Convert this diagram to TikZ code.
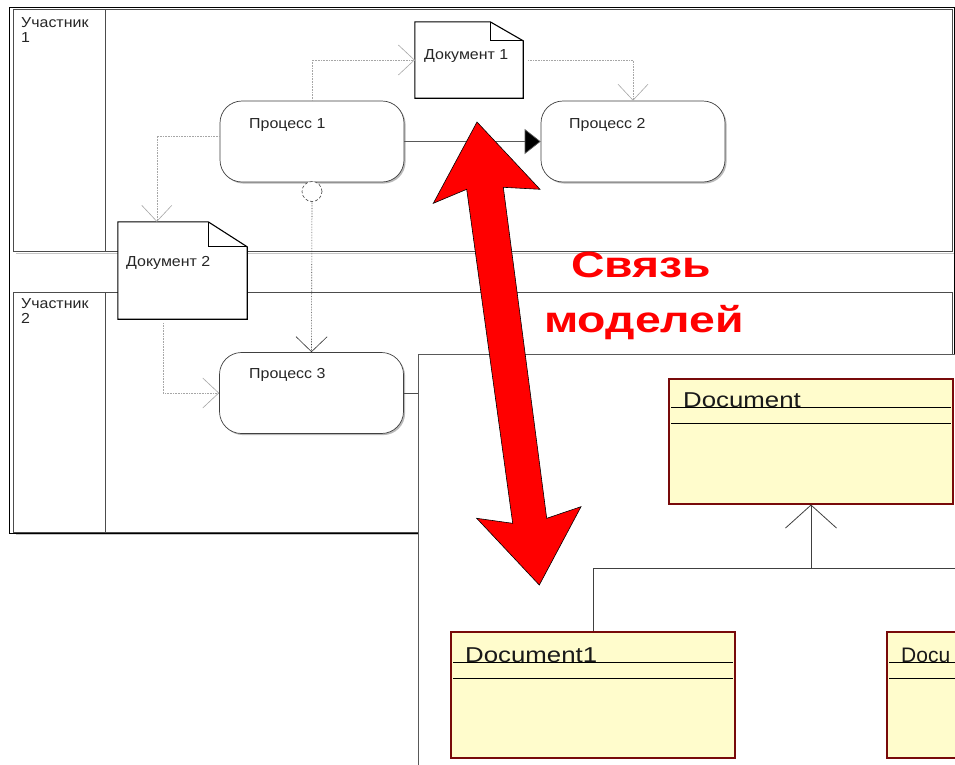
\documentclass[tikz,border=0pt]{standalone}
\usepackage{fontspec}
\setmainfont{Liberation Sans}
\newfontfamily\bpmnfont[FakeStretch=1.1]{Liberation Sans}
\newfontfamily\umlfont[FakeStretch=1.2]{Liberation Sans}
\newfontfamily\umlcutfont{Liberation Sans}
\newfontfamily\redfont[FakeStretch=1.27]{Liberation Sans}
\usetikzlibrary{arrows.meta,shadows,calc}
\definecolor{umlyellow}{RGB}{255,252,204}
\definecolor{umlborder}{RGB}{120,10,10}
\definecolor{bigred}{RGB}{255,0,0}
\tikzset{
  lanebox/.style={draw=black!70, line width=0.8pt},
  laneshadow/.style={draw=gray!45, line width=1.6pt},
  poolbox/.style={draw=black, line width=0.8pt},
  proc/.style={draw=black!75, line width=0.7pt, rounded corners=22pt, fill=white,
    minimum width=184pt, minimum height=81pt, inner sep=0pt,
    drop shadow={shadow xshift=1.6pt, shadow yshift=-1.6pt, fill=gray!55, opacity=1}},
  lbl/.style={font=\bpmnfont\fontsize{14.5}{16}\selectfont, inner sep=0pt, anchor=base west, text=black!85},
  docline/.style={draw=black, line width=1.1pt, fill=white},
  flow/.style={draw=gray!70, line width=0.6pt, densely dotted,
    -{Straight Barb[length=16pt, width=30pt, line width=0.6pt]}},
  msg/.style={draw=black!80, line width=0.6pt, densely dotted,
    -{Straight Barb[length=15pt, width=31pt, line width=0.6pt]}},
  seqflow/.style={draw=black!65, line width=0.7pt, -{Triangle[length=16pt, width=25pt, fill=black]}},
  umlclass/.style={draw=umlborder, line width=2pt, fill=umlyellow, inner sep=0pt},
  umlline/.style={draw=black, line width=0.7pt},
  umltxt/.style={font=\umlfont\fontsize{21.5}{24}\selectfont, inner sep=0pt, anchor=base west, text=black!90},
  gen/.style={draw=black!75, line width=0.8pt},
  redtxt/.style={font=\redfont\bfseries\fontsize{36.5}{40}\selectfont, text=bigred, inner sep=0pt, anchor=base west}
}
\begin{document}
\begin{tikzpicture}[x=1pt,y=-1pt]
\useasboundingbox (0,0) rectangle (955,764);
\clip (0,0) rectangle (955,764);
\fill[white] (0,0) rectangle (955,764);

% pool and lanes
\draw[laneshadow] (955,12) -- (955,253.5) -- (16,253.5);
\draw[laneshadow] (955,295) -- (955,534.5) -- (16,534.5);
\draw[poolbox] (9,7) rectangle (954,533);
\draw[lanebox] (13,9) rectangle (952,251);
\draw[lanebox] (13,292) rectangle (952,532);
\draw[lanebox] (105.5,9) -- (105.5,251);
\draw[lanebox] (105.5,292) -- (105.5,532);
\node[lbl] (l1a) at (21,27) {Участник};
\node[lbl] (l1b) at (21,42.5) {1};
\node[lbl] (l2a) at (21,308) {Участник};
\node[lbl] (l2b) at (21,323.5) {2};

% processes
\node[proc] (p1) at (312,141.5) {};
\node[proc] (p2) at (633,141.5) {};
\node[proc] (p3) at (311.5,393) {};
\node[lbl] (p1t) at (249,128) {Процесс 1};
\node[lbl] (p2t) at (569,128) {Процесс 2};
\node[lbl] (p3t) at (249,378.5) {Процесс 3};

% documents
\node[minimum width=108pt, minimum height=76pt, inner sep=0pt] (d1) at (469,60) {};
\draw[docline] (d1.south west) -- (d1.north west) -- ($(d1.north east)+(-33,0)$) -- ($(d1.north east)+(0,19)$) -- (d1.south east) -- cycle;
\draw[docline, fill=none] ($(d1.north east)+(-33,0)$) -- ($(d1.north east)+(-33,19)$) -- ($(d1.north east)+(0,19)$);
\node[lbl] (d1t) at (424,59) {Документ 1};

\node[minimum width=129pt, minimum height=97pt, inner sep=0pt] (d2) at (182.5,270.5) {};
\draw[docline] (d2.south west) -- (d2.north west) -- ($(d2.north east)+(-39,0)$) -- ($(d2.north east)+(0,25)$) -- (d2.south east) -- cycle;
\draw[docline, fill=none] ($(d2.north east)+(-39,0)$) -- ($(d2.north east)+(-39,25)$) -- ($(d2.north east)+(0,25)$);
\node[lbl] (d2t) at (126,266) {Документ 2};

% connectors
\draw[flow] (p1.north) |- (d1.west);
\draw[flow] ($(d1.east)+(5,0)$) -| (p2.north);
\draw[flow] ($(p1.west)+(0,-5.5)$) -| ($(d2.north west)+(39,0)$);
\draw[flow] ($(d2.south west)+(45,4)$) |- (p3.west);
\draw[seqflow] (p1.east) -- (p2.west);
\node[circle, draw=black!75, densely dashed, line width=0.6pt, fill=white, minimum size=20pt, inner sep=0pt] (c1) at (312,191.5) {};
\draw[msg] (c1.south) -- (p3.north);

% UML panel
\node[draw=black!65, line width=1pt, fill=white, anchor=north west, minimum width=560pt, minimum height=430pt, inner sep=0pt] (panel) at (418,354) {};
\draw[draw=black!70, line width=0.7pt] (p3.east) -- (panel.west |- p3.east);

% UML classes
\node[umlclass, minimum width=284pt, minimum height=125pt] (cdoc) at (811,441) {};
\draw[umlline] ($(cdoc.north west)+(3,30)$) -- ($(cdoc.north east)+(-3,30)$);
\draw[umlline] ($(cdoc.north west)+(3,46)$) -- ($(cdoc.north east)+(-3,46)$);
\node[umltxt] (cdoct) at (683,407) {Document};

\node[umlclass, minimum width=284pt, minimum height=126pt] (cd1) at (593,695) {};
\draw[umlline] ($(cd1.north west)+(3,31)$) -- ($(cd1.north east)+(-3,31)$);
\draw[umlline] ($(cd1.north west)+(3,47)$) -- ($(cd1.north east)+(-3,47)$);
\node[umltxt] (cd1t) at (465,662) {Document1};

\node[umlclass, minimum width=284pt, minimum height=126pt] (cd2) at (1029,695) {};
\draw[umlline] ($(cd2.north west)+(3,31)$) -- ($(cd2.north east)+(-3,31)$);
\draw[umlline] ($(cd2.north west)+(3,47)$) -- ($(cd2.north east)+(-3,47)$);
\node[umltxt, font=\umlcutfont\fontsize{21}{24}\selectfont] (cd2t) at (901,662) {Docu};

% generalization
\coordinate (gr) at (970,568);
\draw[gen] (cd1.north) |- (gr);
\draw[gen, -{Straight Barb[length=23pt, width=51pt, line width=0.8pt]}] (cdoc.south |- gr) -- (cdoc.south);

% red double arrow
\filldraw[fill=bigred, draw=black, line width=0.6pt]
  (477,122) -- (540,189.3) -- (503.3,187.3) -- (546.7,518.3) -- (581,506.7) -- (539.3,585)
  -- (476.7,518.3) -- (512.7,523.3) -- (466.7,189.3) -- (433.3,203.3) -- cycle;

\node[redtxt] (t1) at (571,277) {Связь};
\node[redtxt] (t2) at (544,332) {моделей};
\end{tikzpicture}
\end{document}
